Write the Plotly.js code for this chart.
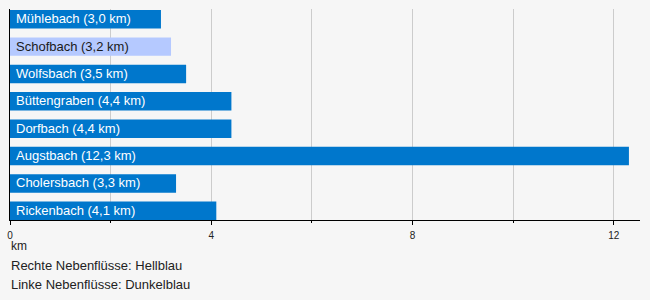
<!DOCTYPE html>
<html>
<head>
<meta charset="utf-8">
<script src="https://cdn.plot.ly/plotly-3.0.1.min.js"></script>
<style>html,body{margin:0;padding:0;background:#f6f6f6;}</style>
</head>
<body>
<div id="chart" style="width:650px;height:300px;"></div>
<script>
const names = ["Mühlebach", "Schofbach", "Wolfsbach", "Büttengraben", "Dorfbach", "Augstbach", "Cholersbach", "Rickenbach"];
const lengthsKm = [3.0, 3.2, 3.5, 4.4, 4.4, 12.3, 3.3, 4.1];
const side = ["links", "rechts", "links", "links", "links", "links", "links", "links"];
const xTicks = [0, 4, 8, 12];
const unitLabel = "km";
const notes = ["Rechte Nebenflüsse: Hellblau", "Linke Nebenflüsse: Dunkelblau"];

const dark = "#0077cc", light = "#b5c9ff";
const labels = names.map((n, i) => n + " (" + lengthsKm[i].toFixed(1).replace(".", ",") + " km)");
const colors = side.map(s => s === "rechts" ? light : dark);
const textColors = side.map(s => s === "rechts" ? "#1a1a1a" : "#ffffff");

const trace = {
  type: "bar",
  orientation: "h",
  y: names,
  x: lengthsKm,
  marker: {color: colors, line: {width: 0}},
  hoverinfo: "none"
};

const barLabels = names.map((n, i) => ({
  xref: "x", yref: "y", x: 0, y: n, xanchor: "left", yanchor: "middle",
  xshift: 4, yshift: 0.5,
  text: labels[i], showarrow: false,
  font: {family: "Liberation Sans, Arial, sans-serif", size: 13, color: textColors[i]}
}));

const noteAnns = [
  {xref: "paper", yref: "paper", x: 0, y: -0.123, xanchor: "left", yanchor: "middle", xshift: -1, text: unitLabel, showarrow: false, font: {size: 12, color: "#222"}},
  {xref: "paper", yref: "paper", x: 0, y: -0.218, xanchor: "left", yanchor: "middle", xshift: -1, text: notes[0], showarrow: false, font: {size: 13, color: "#222"}},
  {xref: "paper", yref: "paper", x: 0, y: -0.308, xanchor: "left", yanchor: "middle", xshift: -1, text: notes[1], showarrow: false, font: {size: 13, color: "#222"}}
];

const layout = {
  width: 650, height: 300,
  margin: {l: 10, r: 10, t: 9, b: 80},
  paper_bgcolor: "#f6f6f6",
  plot_bgcolor: "#f6f6f6",
  showlegend: false,
  bargap: 0.325,
  font: {family: "Liberation Sans, Arial, sans-serif", color: "#222"},
  xaxis: {
    range: [0, 12.52],
    tickvals: xTicks,
    ticktext: xTicks.map(String),
    showgrid: true, gridcolor: "#cccccc", gridwidth: 1,
    showline: true, linecolor: "#000", linewidth: 1,
    ticks: "outside", ticklen: 4, tickcolor: "#000",
    ticklabelstandoff: 2,
    tickfont: {size: 10, color: "#222"},
    zeroline: false,
    minor: {dtick: 2, tick0: 0, showgrid: true, gridcolor: "#cccccc", ticks: "outside", ticklen: 2, tickcolor: "#000"}
  },
  yaxis: {
    type: "category",
    categoryorder: "array",
    categoryarray: names,
    range: [7.3375, -0.376],
    showticklabels: false,
    showgrid: false,
    showline: true, linecolor: "#000", linewidth: 1,
    zeroline: false,
    ticks: ""
  },
  annotations: barLabels.concat(noteAnns)
};

Plotly.newPlot("chart", [trace], layout, {staticPlot: true, displayModeBar: false});
</script>
</body>
</html>
